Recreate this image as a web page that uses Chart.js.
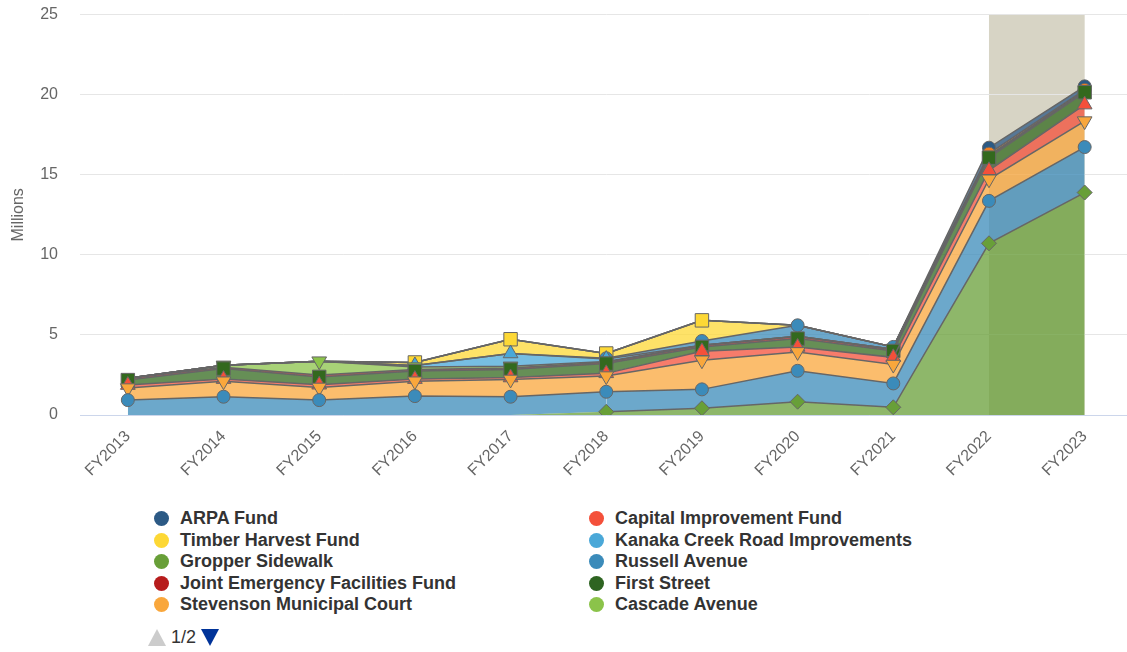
<!DOCTYPE html>
<html>
<head>
<meta charset="utf-8">
<title>Funds by Year</title>
<script src="https://cdn.jsdelivr.net/npm/chart.js@4.4.1/dist/chart.umd.min.js"></script>
<style>
  html, body { margin: 0; padding: 0; background: #fff; width: 1127px; height: 652px; overflow: hidden; }
  #wrap { position: absolute; left: 0; top: -17px; width: 1143px; height: 520px; }
  #legend { position: absolute; left: 0; top: 507px; width: 1127px; height: 112px; overflow: hidden;
            font: bold 18px "Liberation Sans", Arial, Helvetica, sans-serif; color: #333; }
  .item { position: absolute; height: 22px; line-height: 22px; white-space: nowrap; }
  .item .dot { position: absolute; left: 0; top: 4px; width: 15px; height: 15px; border-radius: 50%; }
  .item .txt { position: absolute; left: 26px; top: 0; }
  #pager { position: absolute; left: 148px; top: 627px; height: 20px; font: 18px "Liberation Sans", Arial, sans-serif; color: #333; }
  #pager .up, #pager .down { position: absolute; top: 2px; width: 0; height: 0;
            border-left: 9px solid transparent; border-right: 9px solid transparent; }
  #pager .up { left: 0; border-bottom: 17px solid #ccc; }
  #pager .down { left: 53px; border-top: 17px solid #039; }
  #pager .num { position: absolute; left: 23px; top: 0; }
</style>
</head>
<body>
<div id="wrap"><canvas id="fundChart" width="1143" height="520"></canvas></div>
<div id="legend"></div>
<div id="pager"><span class="up"></span><span class="num">1/2</span><span class="down"></span></div>

<script>
// fiscal years on the x axis
const years = ['FY2013', 'FY2014', 'FY2015', 'FY2016', 'FY2017', 'FY2018', 'FY2019', 'FY2020', 'FY2021', 'FY2022', 'FY2023'];
const yTicks = [0, 5, 10, 15, 20, 25];

// balances in millions, one array per fund (stacked bottom -> top)
const gropperSidewalk   = [0, 0, 0, 0, 0, 0.2, 0.42, 0.83, 0.48, 10.72, 13.89];
const russellAvenue     = [0.93, 1.14, 0.93, 1.18, 1.14, 1.25, 1.18, 1.93, 1.49, 2.65, 2.84];
const stevensonCourt    = [0.75, 0.97, 0.79, 0.93, 1.08, 0.98, 1.82, 1.18, 1.18, 1.35, 1.62];
const capitalImprove    = [0.19, 0.13, 0.17, 0.13, 0.12, 0.17, 0.56, 0.31, 0.45, 0.56, 1.03];
const firstStreet       = [0.31, 0.66, 0.49, 0.5, 0.5, 0.61, 0.27, 0.52, 0.4, 0.79, 0.77];
const jointEmergency    = [0.12, 0.08, 0.11, 0.1, 0.1, 0.08, 0.1, 0.15, 0.1, 0.1, 0.05];
const cascadeAvenue     = [0, 0.12, 0.87, 0.15, 0.1, 0.05, 0, 0, 0, 0, 0];
const kanakaCreek       = [0, 0, 0, 0.1, 0.8, 0.15, 0, 0, 0, 0, 0];
const otherProjects     = [0, 0, 0, 0, 0, 0.05, 0.27, 0.68, 0.15, 0, 0];
const timberHarvest     = [0, 0, 0, 0.19, 0.89, 0.3, 1.29, 0, 0, 0, 0];
const columbiaAvenue    = [0, 0, 0, 0, 0, 0, 0, 0, 0, 0.15, 0.1];
const arpaFund          = [0, 0, 0, 0, 0, 0, 0, 0, 0, 0.37, 0.22];

// highlighted span (category indexes)
const bandFrom = 9;
const bandTo = 10;

// series setup: label, values, colour, marker shape
const funds = [
  { label: 'Gropper Sidewalk', data: gropperSidewalk, color: '#689f38', shape: 'diamond' },
  { label: 'Russell Avenue', data: russellAvenue, color: '#3b8bba', shape: 'circle' },
  { label: 'Stevenson Municipal Court', data: stevensonCourt, color: '#f9a73c', shape: 'triangle-down' },
  { label: 'Capital Improvement Fund', data: capitalImprove, color: '#f4503a', shape: 'triangle' },
  { label: 'First Street', data: firstStreet, color: '#33691e', shape: 'square' },
  { label: 'Joint Emergency Facilities Fund', data: jointEmergency, color: '#b71c1c', shape: 'none' },
  { label: 'Cascade Avenue', data: cascadeAvenue, color: '#8bc34a', shape: 'triangle-down' },
  { label: 'Kanaka Creek Road Improvements', data: kanakaCreek, color: '#4aa8d8', shape: 'triangle' },
  { label: 'Other Projects', data: otherProjects, color: '#3b8bba', shape: 'circle' },
  { label: 'Timber Harvest Fund', data: timberHarvest, color: '#fdd835', shape: 'square' },
  { label: 'Columbia Avenue', data: columbiaAvenue, color: '#f57f20', shape: 'circle' },
  { label: 'ARPA Fund', data: arpaFund, color: '#2c5a85', shape: 'circle' }
];

// legend page 1, two columns, row by row
const legendItems = [
  ['ARPA Fund', '#2c5a85'], ['Capital Improvement Fund', '#f4503a'],
  ['Timber Harvest Fund', '#fdd835'], ['Kanaka Creek Road Improvements', '#4aa8d8'],
  ['Gropper Sidewalk', '#689f38'], ['Russell Avenue', '#3b8bba'],
  ['Joint Emergency Facilities Fund', '#b71c1c'], ['First Street', '#2e6421'],
  ['Stevenson Municipal Court', '#f9a73c'], ['Cascade Avenue', '#8bc34a'],
  ['Columbia Avenue', '#f57f20'], ['Equipment Service Fund', '#2c5a85']
];

function hexA(hex, a) {
  const n = parseInt(hex.slice(1), 16);
  return `rgba(${n >> 16}, ${(n >> 8) & 255}, ${n & 255}, ${a})`;
}

const SHAPES = {
  'circle':        { style: 'circle',  radius: 6.5, rot: 0 },
  'diamond':       { style: 'rectRot', radius: 7.5, rot: 0 },
  'square':        { style: 'rect',    radius: 9.5, rot: 0 },
  'triangle':      { style: 'triangle', radius: 8.5, rot: 0 },
  'triangle-down': { style: 'triangle', radius: 8.5, rot: 180 },
  'none':          { style: 'circle',  radius: 0, rot: 0 }
};

const datasets = funds.map((f, i) => {
  const s = SHAPES[f.shape];
  const ds = {
    label: f.label,
    data: f.data,
    fill: i === 0 ? 'origin' : '-1',
    backgroundColor: hexA(f.color, 0.75),
    borderColor: '#666666',
    borderWidth: 1.5,
    tension: 0,
    pointStyle: s.style,
    pointRotation: s.rot,
    pointRadius: f.data.map(v => v > 0 ? s.radius : 0),
    pointBackgroundColor: f.color,
    pointBorderColor: '#666666',
    pointBorderWidth: 1
  };
  if (i === 0) {
    // bottom fund only starts in FY2018 - no outline along the baseline before that
    ds.segment = {
      borderColor: ctx => (f.data[ctx.p0DataIndex] === 0 || f.data[ctx.p1DataIndex] === 0) ? 'rgba(0,0,0,0)' : '#666666'
    };
  }
  return ds;
});

// shaded column behind the areas, under the grid
const bandPlugin = {
  id: 'yearBand',
  beforeDraw(chart) {
    const { ctx, chartArea, scales } = chart;
    const x0 = scales.x.getPixelForValue(bandFrom);
    const x1 = scales.x.getPixelForValue(bandTo);
    ctx.save();
    ctx.fillStyle = '#d7d4c5';
    ctx.fillRect(x0, chartArea.top, x1 - x0, chartArea.bottom - chartArea.top);
    ctx.restore();
  }
};

const FONT = '"Liberation Sans", Arial, Helvetica, sans-serif';

new Chart(document.getElementById('fundChart'), {
  type: 'line',
  data: { labels: years, datasets: datasets },
  options: {
    responsive: false,
    animation: false,
    events: [],
    layout: { padding: { top: 13, right: 5, left: 0, bottom: 0 } },
    plugins: {
      legend: { display: false },
      tooltip: { enabled: false },
      filler: { drawTime: 'beforeDatasetsDraw' }
    },
    scales: {
      x: {
        offset: true,
        grid: { display: false },
        border: { display: true, color: '#ccd6eb', width: 1 },
        ticks: {
          color: '#666666',
          font: { family: FONT, size: 16 },
          minRotation: 45,
          maxRotation: 45,
          padding: 4,
          autoSkip: false
        },
        afterFit(scale) { scale.height = 88; }
      },
      y: {
        stacked: true,
        min: yTicks[0],
        max: yTicks[yTicks.length - 1],
        afterBuildTicks(scale) { scale.ticks = yTicks.map(v => ({ value: v })); },
        grid: { color: '#e6e6e6', drawTicks: false, lineWidth: 1 },
        border: { display: false },
        ticks: {
          color: '#666666',
          font: { family: FONT, size: 16 },
          padding: 22
        },
        title: {
          display: true,
          text: 'Millions',
          color: '#666666',
          font: { family: FONT, size: 16 },
          padding: { top: 9, bottom: 0 }
        },
        afterFit(scale) { scale.width = 80; }
      }
    }
  },
  plugins: [bandPlugin]
});

// legend (html), two columns, clipped to the first page
const legendEl = document.getElementById('legend');
const colX = [154, 589];
const rowStep = 21.5;
legendItems.forEach(([name, color], i) => {
  const item = document.createElement('div');
  item.className = 'item';
  item.style.left = colX[i % 2] + 'px';
  item.style.top = (Math.floor(i / 2) * rowStep) + 'px';
  item.innerHTML = `<span class="dot" style="background:${color}"></span><span class="txt">${name}</span>`;
  legendEl.appendChild(item);
});
</script>
</body>
</html>
